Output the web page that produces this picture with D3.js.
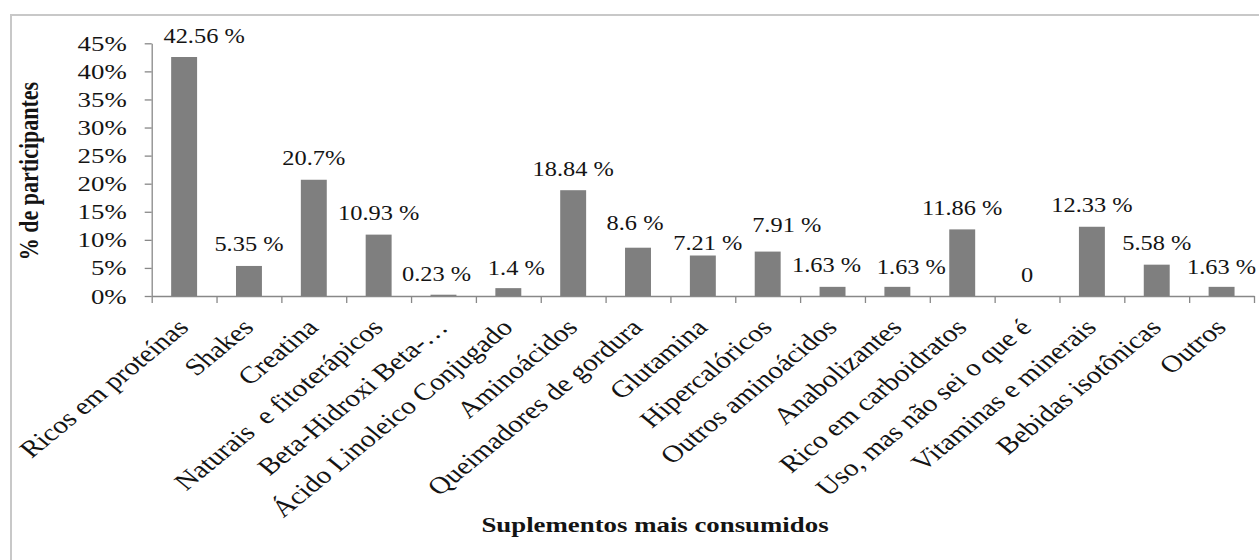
<!DOCTYPE html>
<html>
<head>
<meta charset="utf-8">
<script src="https://cdn.jsdelivr.net/npm/d3@7"></script>
<style>
    body { margin: 0; background: white; }
    text { font-family: 'Liberation Serif', 'Times New Roman', serif; fill: #141414; white-space: pre; }
</style>
</head>
<body>
<script>

const categories = [
    'Ricos em proteínas', 'Shakes', 'Creatina', 'Naturais  e fitoterápicos',
    'Beta-Hidroxi Beta-…', 'Ácido Linoleico Conjugado', 'Aminoácidos',
    'Queimadores de gordura', 'Glutamina', 'Hipercalóricos', 'Outros aminoácidos',
    'Anabolizantes', 'Rico em carboidratos', 'Uso, mas não sei o que é',
    'Vitaminas e minerais', 'Bebidas isotônicas', 'Outros'
]
const values = [42.56, 5.35, 20.7, 10.93, 0.23, 1.4, 18.84, 8.6, 7.21, 7.91, 1.63, 1.63, 11.86, 0, 12.33, 5.58, 1.63]
const valueLabels = ['42.56 %', '5.35 %', '20.7%', '10.93 %', '0.23 %', '1.4 %', '18.84 %', '8.6 %', '7.21 %',
    '7.91 %', '1.63 %', '1.63 %', '11.86 %', '0', '12.33 %', '5.58 %', '1.63 %']
const yTicks = [0, 5, 10, 15, 20, 25, 30, 35, 40, 45]
const yTitle = '% de participantes'
const xTitle = 'Suplementos mais consumidos'

// labels that were dragged by hand in the original sheet (dx, dy in px)
const labelNudge = [[20, 0], [0, 0], [0, 0], [0, 0], [-7, 1], [8, 1], [0, 0], [-3, -3], [5, 9],
    [19, -5], [-6, 0], [14, 2], [0, 0], [0, 0], [0, 0], [0, 0], [0, 2]]

// the source picture is stretched sideways, so every text gets this
const stretch = 1.22

class barChart {

    constructor(){
        this.width = 1259
        this.height = 560
        this.plot = {left: 151.7, right: 1254, top: 43.3, bottom: 296}
        this.svg = d3.select('body').append('svg')
            .attr('width', this.width)
            .attr('height', this.height)
        this.#setupScales()
    }

    #setupScales(){
        this.x = d3.scaleBand()
            .domain(categories)
            .range([this.plot.left, this.plot.right])
            .paddingInner(0.6)
            .paddingOuter(0.3)
        this.xEdges = d3.scaleLinear()
            .domain([0, categories.length])
            .range([this.plot.left, this.plot.right])
        this.y = d3.scaleLinear()
            .domain([0, 45])
            .range([this.plot.bottom, this.plot.top])
    }

    drawFrame(){
        this.svg.append('rect')
            .attr('x', 11)
            .attr('y', 15)
            .attr('width', 1300)
            .attr('height', 600)
            .attr('fill', 'none')
            .attr('stroke', '#c8c8c8')
            .attr('stroke-width', 2)
    }

    drawAxes(){
        const yAxis = this.svg.append('g')
            .attr('transform', `translate(${this.plot.left},0)`)
            .call(d3.axisLeft(this.y).tickValues(yTicks).tickSize(7).tickSizeOuter(0).tickFormat(d => d + '%'))

        yAxis.selectAll('text')
            .attr('x', -25 / stretch)
            .attr('transform', `scale(${stretch},1)`)
            .style('font-size', '22px')

        const xAxis = this.svg.append('g')
            .attr('transform', `translate(0,${this.plot.bottom})`)
            .call(d3.axisBottom(this.xEdges).tickValues(d3.range(categories.length + 1)).tickSize(7).tickSizeOuter(0).tickFormat(''))

        this.svg.selectAll('.domain, .tick line')
            .attr('stroke', '#888')
            .attr('stroke-width', 1.3)

        // category names, end aligned under each bar
        this.svg.append('g').selectAll('text')
            .data(categories)
            .join('text')
            .attr('transform', d => `translate(${this.x(d) + this.x.bandwidth() / 2 + 6},329) scale(${stretch},1) rotate(-45)`)
            .attr('text-anchor', 'end')
            .style('font-size', '24px')
            .text(d => d)
    }

    drawBars(){
        const bars = categories.map((c, i) => ({name: c, value: values[i], label: valueLabels[i], nudge: labelNudge[i]}))

        this.svg.append('g').selectAll('rect')
            .data(bars)
            .join('rect')
            .attr('x', d => this.x(d.name))
            .attr('y', d => this.y(d.value))
            .attr('width', this.x.bandwidth())
            .attr('height', d => this.y(0) - this.y(d.value))
            .attr('fill', '#7f7f7f')

        this.svg.append('g').selectAll('text')
            .data(bars)
            .join('text')
            .attr('transform', d => {
                const px = this.x(d.name) + this.x.bandwidth() / 2 + d.nudge[0]
                const py = this.y(d.value) - 14.5 + d.nudge[1]
                return `translate(${px},${py}) scale(${stretch},1)`
            })
            .attr('text-anchor', 'middle')
            .style('font-size', '20px')
            .text(d => d.label)
    }

    drawTitles(){
        this.svg.append('text')
            .attr('transform', `translate(38,171) scale(${stretch},1) rotate(-90)`)
            .attr('text-anchor', 'middle')
            .style('font-size', '22px')
            .style('font-weight', 'bold')
            .text(yTitle)

        this.svg.append('text')
            .attr('transform', `translate(655,532) scale(${stretch},1)`)
            .attr('text-anchor', 'middle')
            .style('font-size', '22px')
            .style('font-weight', 'bold')
            .text(xTitle)
    }
}

const chart = new barChart()
chart.drawFrame()
chart.drawAxes()
chart.drawBars()
chart.drawTitles()

</script>
</body>
</html>
